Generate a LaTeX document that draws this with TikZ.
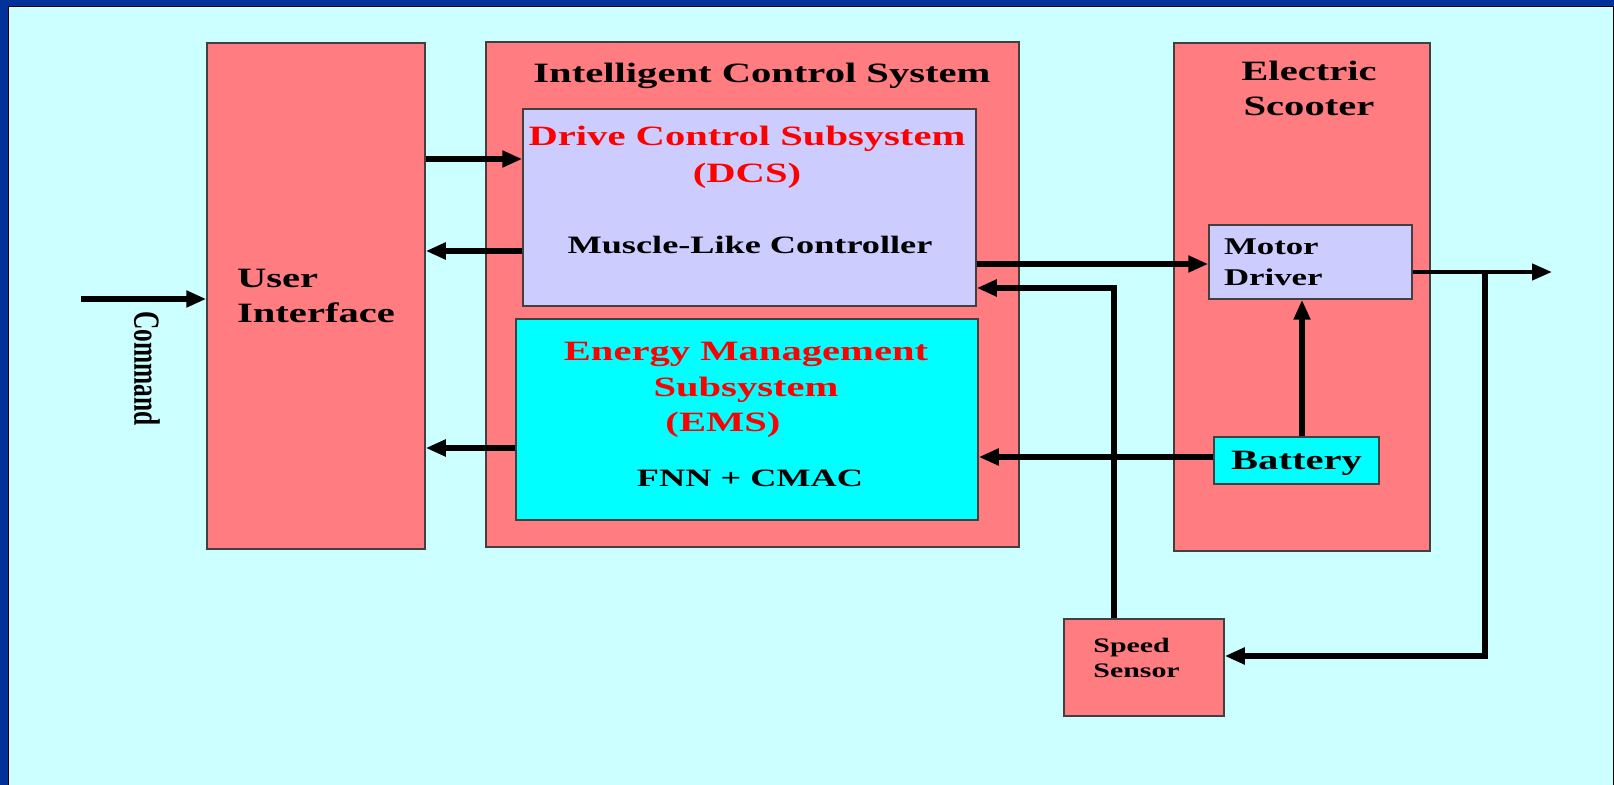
\documentclass[tikz,border=0pt]{standalone}
\usepackage{fontspec}
\setmainfont{Liberation Serif}[FakeStretch=1.45]
\newfontfamily\cmdfont{Liberation Serif}
\usepackage{graphicx}
\usetikzlibrary{arrows.meta}

\definecolor{slidebg}{HTML}{CCFFFF}
\definecolor{frameblue}{HTML}{003399}
\definecolor{blockpink}{HTML}{FF7C80}
\definecolor{lavender}{HTML}{CCCCFF}
\definecolor{aqua}{HTML}{00FFFF}
\definecolor{titlered}{HTML}{FF0000}

\begin{document}
\begin{tikzpicture}[x=0.5pt,y=-0.5pt,
block/.style={draw=black!75,line width=0.75pt,fill=blockpink,inner sep=0pt},
heading/.style={inner sep=0pt,align=center,font=\bfseries\fontsize{14}{17.5}\selectfont},
subheading/.style={heading,text=titlered},
smalltext/.style={inner sep=0pt,font=\bfseries\fontsize{12.5}{15}\selectfont},
flow/.style={-{Triangle[length=10pt,width=8pt]},line width=2.8pt}]
\useasboundingbox (0,0) rectangle (1614,785);
\fill[frameblue] (0,0) rectangle (1614,785);
\draw[fill=slidebg,draw=black,line width=0.5pt] (8,7) rectangle (1613.5,800);

% outer blocks
\node[block,minimum width=109pt,minimum height=253pt,align=left,font=\bfseries\fontsize{14}{17.5}\selectfont] (ui) at (316,296) {User\\Interface};
\node[block,minimum width=266.5pt,minimum height=252.5pt] (ics) at (752.5,294.5) {};
\node[block,minimum width=128pt,minimum height=254pt] (es) at (1302,297) {};
\node[heading,anchor=base] (icstitle) at (762,83) {Intelligent Control System};
\node[heading] (estitle) at (1309,88) {Electric\\Scooter};

% subsystems
\node[block,fill=lavender,minimum width=226.5pt,minimum height=98.5pt] (dcs) at (749.5,207.5) {};
\node[subheading,font=\bfseries\fontsize{14}{18.5}\selectfont] (dcstitle) at (747,157) {Drive Control Subsystem\\(DCS)};
\node[smalltext,anchor=base] (mlc) at (750,254) {Muscle-Like Controller};
\node[block,fill=aqua,minimum width=231pt,minimum height=100.5pt] (ems) at (747,419.5) {};
\node[subheading,font=\bfseries\fontsize{14}{17.75}\selectfont] (emstitle) at (746,390) {Energy Management\\Subsystem\hspace*{20pt}\\(EMS)\hspace*{23pt}};
\node[smalltext,anchor=base] (fnn) at (750,487) {FNN + CMAC};

% scooter parts
\node[block,fill=lavender,minimum height=37pt,text width=86.5pt,inner xsep=7.5pt,align=left,font=\bfseries\fontsize{12}{15.5}\selectfont] (md) at (1310.5,262) {Motor\\Driver};
\node[block,fill=aqua,minimum width=82.5pt,minimum height=23.5pt,text depth=0pt,font=\bfseries\fontsize{14}{17}\selectfont] (bat) at (1296.5,460.5) {Battery};
\node[block,minimum width=80pt,minimum height=48.5pt] (ss) at (1144,667.5) {};
\node[inner sep=0pt,anchor=west,align=left,font=\bfseries\fontsize{10.3}{12.5}\selectfont] (sstext) at (1093,657.5) {Speed\\Sensor};

\coordinate (cmd) at (81,299);
\coordinate (tap) at (1485,272);
\coordinate (out) at (1552,272);
\node[rotate=-90,inner sep=0pt,font=\cmdfont\bfseries\fontsize{12.7}{15}\selectfont] (cmdlabel) at (147,368.5) {\scalebox{1}[1.45]{Command}};

% signal paths
\draw[flow] (cmd) -- (cmd -| ui.west);
\draw[flow] ([yshift=68.5pt]ui.east) -- ([yshift=24.25pt]dcs.west);
\draw[flow] ([yshift=-21.75pt]dcs.west) -- ([yshift=22.5pt]ui.east);
\draw[flow] ([yshift=-14.25pt]ems.west) -- ([yshift=-76pt]ui.east);
\draw[flow] ([yshift=-28.25pt]dcs.east) -- ([yshift=-1pt]md.west);
\draw[flow] ([xshift=-15pt]ss.north) |- ([yshift=-40.25pt]dcs.east);
\draw[flow] ([yshift=1.75pt]bat.west) -- ([yshift=-18.75pt]ems.east);
\draw[flow] ([xshift=2.75pt]bat.north) -- ([xshift=-4.25pt]md.south);
\draw[flow,line width=2.2pt] ([yshift=-5pt]md.east) -- (out);
\draw[flow] (tap) |- ([yshift=5.75pt]ss.east);
\end{tikzpicture}
\end{document}
